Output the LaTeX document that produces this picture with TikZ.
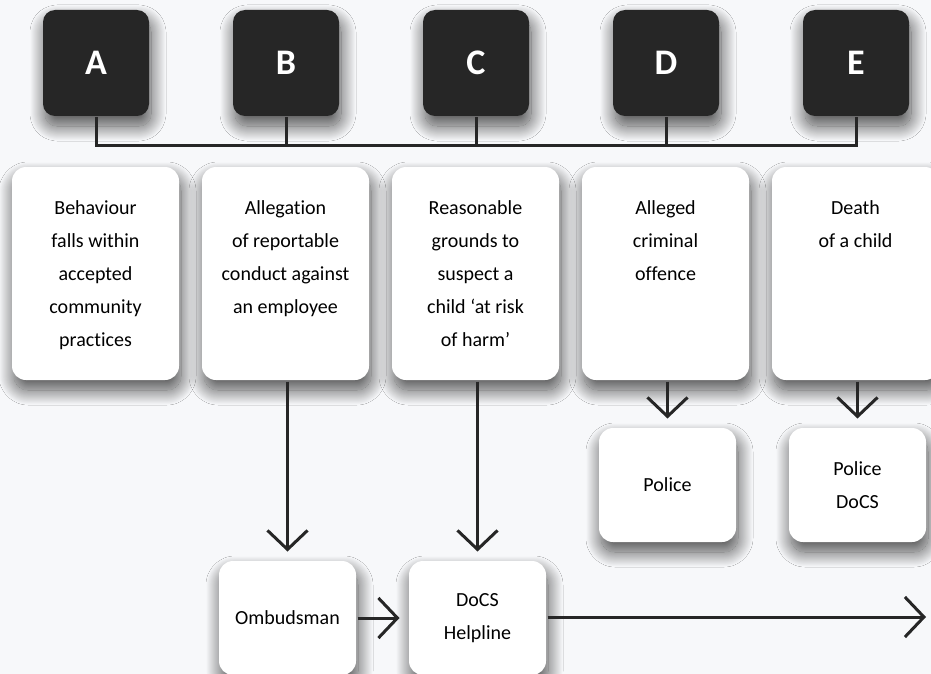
\documentclass[tikz,border=0pt]{standalone}
\usepackage{fontspec}
\setmainfont[Ligatures=NoCommon]{Carlito}
\usetikzlibrary{arrows.meta,shadows.blur,positioning}

\definecolor{ink}{RGB}{38,38,38}
\definecolor{paper}{RGB}{247,248,250}

\begin{document}
\begin{tikzpicture}[x=1pt,y=-1pt]
\clip (0,0) rectangle (931,674);
\fill [paper] (0,0) rectangle (931,674);
\begin{scope}[line width=3pt,draw=ink,
              sh/.style={blur shadow={shadow xshift=2pt,shadow yshift=-10pt,
                         shadow blur radius=15pt,shadow blur steps=40,
                         shadow opacity=70}},
              letter/.style={rectangle,rounded corners=12pt,fill=ink,text=white,sh,
                             minimum width=106pt,minimum height=106pt,
                             font=\fontsize{36}{36}\selectfont\bfseries},
              block1/.style={rectangle,rounded corners=14pt,fill=white,sh,
                             minimum width=167pt,minimum height=213pt},
              block2/.style={rectangle,rounded corners=14pt,fill=white,sh,align=center,
                             minimum width=137pt,minimum height=114pt,
                             font=\fontsize{20}{33}\selectfont},
              note/.style={align=center,inner sep=0pt,anchor=north,
                           font=\fontsize{20}{33}\selectfont},
              arr/.style={-{Straight Barb[length=19pt,width=40pt]},shorten >=8pt}]
    % top row: letters
    \node [letter] (A) at (96,63) {A};
    \node [letter] (B) at (286,63) {B};
    \node [letter] (C) at (476,63) {C};
    \node [letter] (D) at (666,63) {D};
    \node [letter] (E) at (856,63) {E};
    \coordinate (bus) at (0,145);
    \draw (A.south) |- (E.south |- bus) -- (E.south);
    \draw (B.south) -- (B.south |- bus);
    \draw (C.south) -- (C.south |- bus);
    \draw (D.south) -- (D.south |- bus);
    % second row: cases
    \node [block1] (1) at (95.5,273.5) {};
    \node [block1] (2) at (285.5,273.5) {};
    \node [block1] (3) at (475.5,273.5) {};
    \node [block1] (4) at (665.5,273.5) {};
    \node [block1] (5) at (855.5,273.5) {};
    \node [note] at (95.5,199) {Behaviour\\falls within\\accepted\\community\\practices};
    \node [note] at (285.5,199) {Allegation\\of reportable\\conduct against\\an employee};
    \node [note] at (475.5,199) {Reasonable\\grounds to\\suspect a\\child `at risk\\of harm'};
    \node [note] at (665.5,199) {Alleged\\criminal\\offence};
    \node [note] at (855.5,199) {Death\\of a child};
    % who gets told
    \node [block2] (6) at (667.5,485) {Police};
    \node [block2] (7) at (857.5,485) {Police\\DoCS};
    \node [block2] (8) at (287.5,618) {Ombudsman};
    \node [block2] (9) at (477.5,618) {DoCS\\Helpline};
    \coordinate (10) at (926,617);
    \draw [arr] (4.south -| 6.north) -- (6.north);
    \draw [arr] (5.south -| 7.north) -- (7.north);
    \draw [arr] (2.south -| 8.north) -- (8.north);
    \draw [arr] (3.south -| 9.north) -- (9.north);
    \draw [arr] (8) -- (9);
    \draw [arr,shorten >=0pt] (9.east |- 10) -- (10);
\end{scope}
\end{tikzpicture}
\end{document}
